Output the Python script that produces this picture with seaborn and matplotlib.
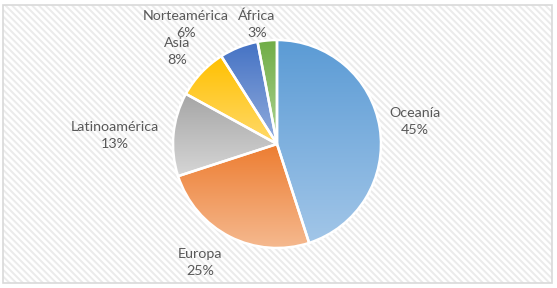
import numpy as np
import matplotlib
matplotlib.use("Agg")
import matplotlib.pyplot as plt
import seaborn as sns
from matplotlib.colors import LinearSegmentedColormap
from matplotlib.patches import Rectangle

sns.set_theme(style="white")
plt.rcParams['font.family'] = ['Lato', 'DejaVu Sans']

regions = ["Oceanía", "Europa", "Latinoamérica", "Asia", "Norteamérica", "África"]
shares = [45, 25, 13, 8, 6, 3]
top_colors = ["#5B9BD5", "#ED7D31", "#A5A5A5", "#FFC000", "#4472C4", "#70AD47"]
bottom_colors = ["#A2C6E8", "#F5B98F", "#D6D6D6", "#FFDA6B", "#93ADDD", "#ADD393"]

W, H = 557, 288
fig = plt.figure(figsize=(W / 100, H / 100), dpi=100)
fig.patch.set_facecolor("white")

# chart area background with diagonal texture and border
plt.rcParams['hatch.linewidth'] = 1.4
bg = Rectangle((3 / W, 5 / H), 549 / W, 278 / H, transform=fig.transFigure,
               facecolor="white", edgecolor="#EBEBEB", hatch="\\\\\\\\\\", lw=0, zorder=-2)
fig.patches.append(bg)
border = Rectangle((3 / W, 5 / H), 549 / W, 278 / H, transform=fig.transFigure,
                   facecolor="none", edgecolor="#D9D9D9", lw=1.2, zorder=-1)
fig.patches.append(border)

cx, cy, r = 277, 144, 104
ax = fig.add_axes([(cx - r) / W, (H - cy - r) / H, 2 * r / W, 2 * r / H])
ax.set_zorder(2)
ax.set_facecolor("none")
wedges, _ = ax.pie(shares, startangle=90, counterclock=False, radius=1,
                   wedgeprops=dict(edgecolor="white", linewidth=1.8))
ax.axis("off")

grad = np.linspace(0, 1, 256).reshape(-1, 1)
for w, c0, c1 in zip(wedges, top_colors, bottom_colors):
    cmap = LinearSegmentedColormap.from_list("g", [c0, c1])
    ext = w.get_path().get_extents()
    im = ax.imshow(grad, cmap=cmap, aspect="auto",
                   extent=(ext.x0, ext.x1, ext.y0, ext.y1), origin="upper", zorder=1)
    im.set_clip_path(w)
    w.set_facecolor("none")
    w.set_zorder(2)
ax.set_xlim(-1.0, 1.0)
ax.set_ylim(-1.0, 1.0)

label_pos = {
    "Oceanía": (415, 113),
    "Europa": (200, 254),
    "Latinoamérica": (115, 127),
    "Asia": (177, 43),
    "Norteamérica": (186, 16),
    "África": (257, 16),
}
for name, val in zip(regions, shares):
    x, y = label_pos[name]
    fig.text(x / W, 1 - y / H, name, ha="center", va="center", fontsize=10.3, color="#595959", zorder=3)
    fig.text(x / W, 1 - (y + 17) / H, f"{val}%",
             ha="center", va="center", fontsize=10.3, color="#595959", zorder=3)

fig.savefig("out.png", dpi=100)
